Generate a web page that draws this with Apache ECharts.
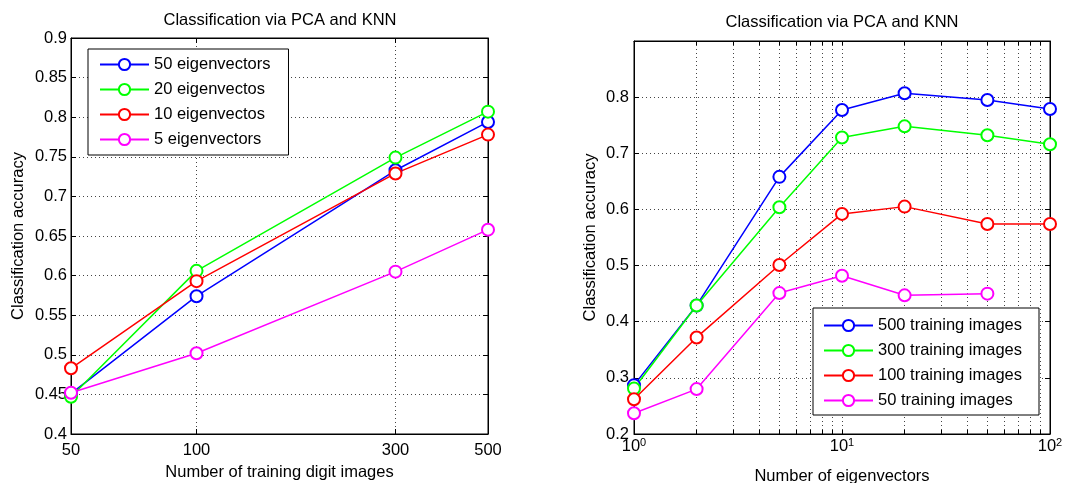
<!DOCTYPE html>
<html>
<head>
<meta charset="utf-8">
<script src="https://cdn.jsdelivr.net/npm/echarts@6/dist/echarts.min.js"></script>
<style>
html,body{margin:0;padding:0;background:#fff;}
#c{width:1082px;height:483px;}
</style>
</head>
<body>
<div id="c"></div>
<script>
// ---------- data ----------
const titleText = 'Classification via PCA and KNN';
// Left plot: x = number of training digit images (log scale)
const leftX = [50, 100, 300, 500];
const leftNames = ['50 eigenvectors', '20 eigenvectos', '10 eigenvectos', '5 eigenvectors'];
const left50 = [0.451, 0.574, 0.733, 0.794];
const left20 = [0.447, 0.606, 0.749, 0.807];
const left10 = [0.483, 0.593, 0.729, 0.778];
const left5  = [0.452, 0.502, 0.605, 0.658];
const leftTicks = [50, 100, 300, 500];

// Right plot: x = number of eigenvectors (log scale)
const rightX = [1, 2, 5, 10, 20, 50, 100];
const rightNames = ['500 training images', '300 training images', '100 training images', '50 training images'];
const right500 = [0.287, 0.429, 0.658, 0.777, 0.807, 0.795, 0.779];
const right300 = [0.281, 0.429, 0.604, 0.728, 0.748, 0.732, 0.716];
const right100 = [0.262, 0.372, 0.501, 0.592, 0.605, 0.574, 0.574];
const right50  = [0.237, 0.280, 0.451, 0.482, 0.447, 0.450];
const rightMinorTicks = [1,2,3,4,5,6,7,8,9,10,20,30,40,50,60,70,80,90,100];
const rightLabelTicks = [1, 10, 100];

const colors = ['#0000ff', '#00ff00', '#ff0000', '#ff00ff'];

// ---------- helpers ----------
const FONT = 'Liberation Sans';
const FS = 16.5;
const lg = v => Math.log10(v);
const pairs = (xs, ys) => ys.map((y, i) => [lg(xs[i]), y]);

const gridLine = { show: true, lineStyle: { color: '#444', type: [1, 3], width: 1 } };
const axisLineBlack = { show: true, onZero: false, lineStyle: { color: '#000', width: 1 } };

function mkSeries(name, data, color, xi, yi) {
  return {
    name, type: 'line', data, xAxisIndex: xi, yAxisIndex: yi,
    symbol: 'emptyCircle', symbolSize: 12,
    itemStyle: { color, borderWidth: 1.5 },
    lineStyle: { color, width: 1.5 },
    emphasis: { disabled: true }, animation: false, z: 3
  };
}

const chart = echarts.init(document.getElementById('c'), null, { renderer: 'canvas' });

const option = {
  backgroundColor: '#fff',
  animation: false,
  textStyle: { fontFamily: FONT, color: '#000' },
  title: [
    { text: titleText, left: 280, top: 12, textAlign: 'center', padding: 0,
      textStyle: { fontFamily: FONT, fontSize: FS, fontWeight: 'normal', color: '#000' } },
    { text: titleText, left: 842, top: 14, textAlign: 'center', padding: 0,
      textStyle: { fontFamily: FONT, fontSize: FS, fontWeight: 'normal', color: '#000' } }
  ],
  grid: [
    { left: 71, right: 594, top: 38, bottom: 49, show: true, borderColor: '#000', borderWidth: 1,
      backgroundColor: '#fff', containLabel: false, outerBoundsMode: 'none' },
    { left: 634, right: 32, top: 41, bottom: 49, show: true, borderColor: '#000', borderWidth: 1,
      backgroundColor: '#fff', containLabel: false, outerBoundsMode: 'none' }
  ],
  legend: [
    { data: leftNames, orient: 'vertical', left: 88, top: 49,
      padding: [7, 18, 7, 11], itemWidth: 49, itemHeight: 14, itemGap: 8,
      backgroundColor: '#fff', borderColor: '#000', borderWidth: 1,
      textStyle: { fontFamily: FONT, fontSize: FS, color: '#000' }, selectedMode: false },
    { data: rightNames, orient: 'vertical', left: 813, top: 308,
      padding: [9, 17, 6, 10], itemWidth: 49, itemHeight: 14, itemGap: 8,
      backgroundColor: '#fff', borderColor: '#000', borderWidth: 1,
      textStyle: { fontFamily: FONT, fontSize: FS, color: '#000' }, selectedMode: false }
  ],
  xAxis: [
    { type: 'value', gridIndex: 0, position: 'bottom', min: lg(50), max: lg(500),
      name: 'Number of training digit images', nameLocation: 'middle', nameGap: 29,
      nameTextStyle: { fontFamily: FONT, fontSize: FS, color: '#000' },
      axisLine: axisLineBlack,
      axisTick: { show: true, inside: true, length: 5, customValues: leftTicks.map(lg), lineStyle: { color: '#000' } },
      axisLabel: { customValues: leftTicks.map(lg), formatter: v => String(Math.round(Math.pow(10, v))),
        fontFamily: FONT, fontSize: FS, color: '#000', margin: 8 },
      splitLine: gridLine },
    { type: 'value', gridIndex: 0, position: 'top', min: lg(50), max: lg(500),
      axisLine: axisLineBlack,
      axisTick: { show: true, inside: true, length: 5, customValues: leftTicks.map(lg), lineStyle: { color: '#000' } },
      axisLabel: { show: false }, splitLine: { show: false } },
    { type: 'value', gridIndex: 1, position: 'bottom', min: 0, max: 2,
      name: 'Number of eigenvectors', nameLocation: 'middle', nameGap: 34,
      nameTextStyle: { fontFamily: FONT, fontSize: FS, color: '#000' },
      axisLine: axisLineBlack,
      axisTick: { show: true, inside: true, length: 4, customValues: rightMinorTicks.map(lg), lineStyle: { color: '#000' } },
      axisLabel: { customValues: rightLabelTicks.map(lg),
        formatter: v => '10{s|' + Math.round(v) + '}',
        fontFamily: FONT, fontSize: FS, color: '#000', margin: 3,
        rich: { s: { fontFamily: FONT, fontSize: 11, color: '#000', verticalAlign: 'top', padding: [0, 0, 8, 0] } } },
      splitLine: gridLine },
    { type: 'value', gridIndex: 1, position: 'top', min: 0, max: 2,
      axisLine: axisLineBlack,
      axisTick: { show: true, inside: true, length: 4, customValues: rightMinorTicks.map(lg), lineStyle: { color: '#000' } },
      axisLabel: { show: false }, splitLine: { show: false } }
  ],
  yAxis: [
    { type: 'value', gridIndex: 0, position: 'left', min: 0.4, max: 0.9, interval: 0.05,
      name: 'Classification accuracy', nameLocation: 'middle', nameGap: 44, nameRotate: 90,
      nameTextStyle: { fontFamily: FONT, fontSize: FS, color: '#000' },
      axisLine: axisLineBlack,
      axisTick: { show: true, inside: true, length: 5, lineStyle: { color: '#000' } },
      axisLabel: { fontFamily: FONT, fontSize: FS, color: '#000', margin: 4 },
      splitLine: gridLine },
    { type: 'value', gridIndex: 0, position: 'right', min: 0.4, max: 0.9, interval: 0.05,
      axisLine: axisLineBlack,
      axisTick: { show: true, inside: true, length: 5, lineStyle: { color: '#000' } },
      axisLabel: { show: false }, splitLine: { show: false } },
    { type: 'value', gridIndex: 1, position: 'left', min: 0.2, max: 0.9, interval: 0.1,
      name: 'Classification accuracy', nameLocation: 'middle', nameGap: 35, nameRotate: 90,
      nameTextStyle: { fontFamily: FONT, fontSize: FS, color: '#000' },
      axisLine: axisLineBlack,
      axisTick: { show: true, inside: true, length: 5, lineStyle: { color: '#000' } },
      axisLabel: { fontFamily: FONT, fontSize: FS, color: '#000', margin: 5, showMaxLabel: false },
      splitLine: gridLine },
    { type: 'value', gridIndex: 1, position: 'right', min: 0.2, max: 0.9, interval: 0.1,
      axisLine: axisLineBlack,
      axisTick: { show: true, inside: true, length: 5, lineStyle: { color: '#000' } },
      axisLabel: { show: false }, splitLine: { show: false } }
  ],
  series: [
    mkSeries(leftNames[0], pairs(leftX, left50), colors[0], 0, 0),
    mkSeries(leftNames[1], pairs(leftX, left20), colors[1], 0, 0),
    mkSeries(leftNames[2], pairs(leftX, left10), colors[2], 0, 0),
    mkSeries(leftNames[3], pairs(leftX, left5),  colors[3], 0, 0),
    mkSeries(rightNames[0], pairs(rightX, right500), colors[0], 2, 2),
    mkSeries(rightNames[1], pairs(rightX, right300), colors[1], 2, 2),
    mkSeries(rightNames[2], pairs(rightX, right100), colors[2], 2, 2),
    mkSeries(rightNames[3], pairs(rightX, right50),  colors[3], 2, 2)
  ]
};
chart.setOption(option);
</script>
</body>
</html>
